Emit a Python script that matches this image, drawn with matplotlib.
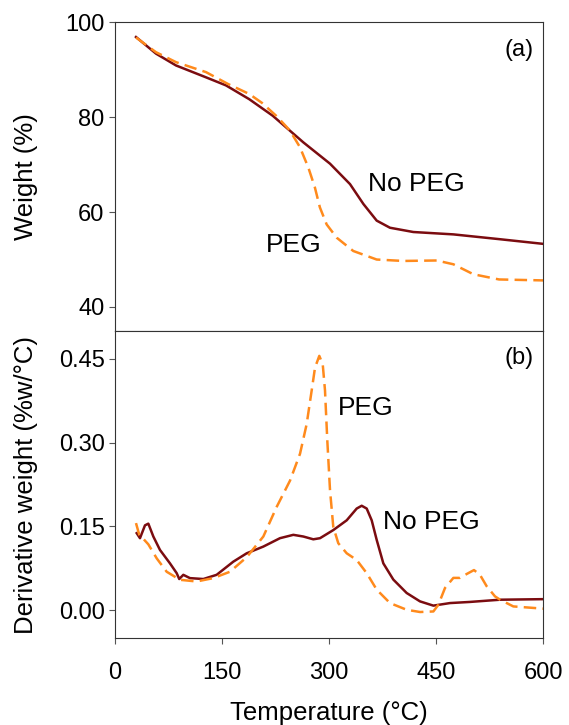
import matplotlib.pyplot as plt

plt.rcParams["font.family"] = ["Liberation Sans", "DejaVu Sans"]

# Top panel: weight (%) vs temperature (C)
wt_nopeg_t = [29.4, 57.4, 85.5, 127.5, 155.5, 188, 221, 263.8, 301.2, 329.2, 348, 366.6, 385.2, 417.9, 474, 538, 600]
wt_nopeg = [96.9, 93.4, 90.9, 88.4, 86.7, 83.8, 80.3, 74.7, 70.2, 65.9, 61.7, 58.2, 56.7, 55.8, 55.3, 54.3, 53.3]
wt_peg_t = [29.4, 57.4, 85.5, 127.5, 158.3, 188, 206, 226.5, 245, 259, 270.8, 280, 287, 296.5, 310.6, 333.8,
            366.6, 403.9, 450.6, 474, 502, 538, 600]
wt_peg = [96.8, 93.7, 91.6, 89.5, 87.0, 84.9, 83.0, 80.2, 77.2, 73.7, 69.4, 65.2, 61.0, 57.4, 54.6, 51.8,
          50.0, 49.7, 49.8, 49.0, 46.9, 45.8, 45.6]

# Bottom panel: derivative weight (%w/C)
dw_nopeg_t = [30.4, 35, 42, 46.7, 53.7, 63, 77, 86.4, 90, 95.7, 105, 123.7, 142.4, 165.7, 184.5, 207.8, 231.1,
              249.8, 263.8, 277.8, 287.2, 305.8, 324.6, 338.6, 345.6, 352.6, 359.6, 366.6, 375.9, 389.9, 408.6,
              427.3, 446, 469.3, 497, 539.4, 600]
dw_nopeg = [0.138, 0.129, 0.152, 0.155, 0.132, 0.108, 0.084, 0.0665, 0.056, 0.0635, 0.0576, 0.056, 0.0635,
            0.087, 0.102, 0.114, 0.129, 0.135, 0.132, 0.127, 0.129, 0.1435, 0.161, 0.182, 0.187, 0.182, 0.161,
            0.126, 0.084, 0.055, 0.031, 0.016, 0.0084, 0.013, 0.015, 0.019, 0.020]
dw_peg_t = [29.4, 34, 39.6, 46.7, 58.4, 72.4, 91, 114.4, 137.7, 161, 184.5, 207.8, 226.5, 245.2, 259.2, 268.5,
            275.5, 280.2, 286.2, 291, 294.2, 297.4, 301.2, 305.8, 312.8, 324.6, 338.6, 352.6, 366.6, 385.2,
            408.6, 427.3, 446, 453, 462.3, 474, 483.3, 492.7, 502.9, 511.3, 520.7, 532.3, 539.4, 558, 600]
dw_peg = [0.156, 0.135, 0.128, 0.118, 0.093, 0.069, 0.0546, 0.0516, 0.0576, 0.069, 0.095, 0.132, 0.185, 0.232,
          0.280, 0.333, 0.393, 0.434, 0.455, 0.440, 0.393, 0.304, 0.215, 0.149, 0.120, 0.102, 0.090, 0.0665,
          0.037, 0.013, 0.001, -0.003, -0.002, 0.010, 0.040, 0.058, 0.058, 0.065, 0.072, 0.0635, 0.043, 0.025,
          0.019, 0.007, 0.003]

dark_red = "#7B0C10"
orange = "#FF8A1C"
dash = (0, (5, 2.5))

fig = plt.figure(figsize=(5.69, 7.25), dpi=100)
ax1 = fig.add_axes([115 / 569, 1 - 330.7 / 725, 428.3 / 569, 308.4 / 725])
ax2 = fig.add_axes([115 / 569, 1 - 638.3 / 725, 428.3 / 569, 307.6 / 725])

ax1.plot(wt_nopeg_t, wt_nopeg, color=dark_red, lw=1.8)
ax1.plot(wt_peg_t, wt_peg, color=orange, lw=1.8, linestyle=dash)
ax1.set_xlim(0, 600)
ax1.set_ylim(35, 100)
ax1.set_yticks([40, 60, 80, 100])
ax1.set_xticks([150, 300, 450])
ax1.tick_params(axis="x", labelbottom=False, direction="out", length=4)
ax1.tick_params(axis="y", labelsize=17, direction="out", length=4)
ax1.set_ylabel("Weight (%)", fontsize=18.5)
ax1.yaxis.set_label_coords(-0.18, 0.5)
ax1.text(566, 94.1, "(a)", fontsize=17, ha="center", va="center")
ax1.text(422.6, 66.0, "No PEG", fontsize=19, ha="center", va="center")
ax1.text(250, 53.1, "PEG", fontsize=19, ha="center", va="center")

ax2.plot(dw_nopeg_t, dw_nopeg, color=dark_red, lw=1.8)
ax2.plot(dw_peg_t, dw_peg, color=orange, lw=1.8, linestyle=dash)
ax2.set_xlim(0, 600)
ax2.set_ylim(-0.05, 0.5)
ax2.set_yticks([0, 0.15, 0.30, 0.45])
ax2.set_yticklabels(["0.00", "0.15", "0.30", "0.45"])
ax2.set_xticks([0, 150, 300, 450, 600])
ax2.tick_params(labelsize=17, direction="out", length=4)
ax2.tick_params(axis="x", pad=13)
ax2.set_ylabel("Derivative weight (%w/°C)", fontsize=18.5)
ax2.yaxis.set_label_coords(-0.18, 0.5)
ax2.set_xlabel("Temperature (°C)", fontsize=18.5, labelpad=12)
ax2.text(566, 0.452, "(b)", fontsize=17, ha="center", va="center")
ax2.text(351, 0.362, "PEG", fontsize=19, ha="center", va="center")
ax2.text(443.5, 0.158, "No PEG", fontsize=19, ha="center", va="center")

for ax in (ax1, ax2):
    for s in ax.spines.values():
        s.set_color("#333333")
    ax.tick_params(color="#555555")

fig.savefig("out.png", dpi=100)
